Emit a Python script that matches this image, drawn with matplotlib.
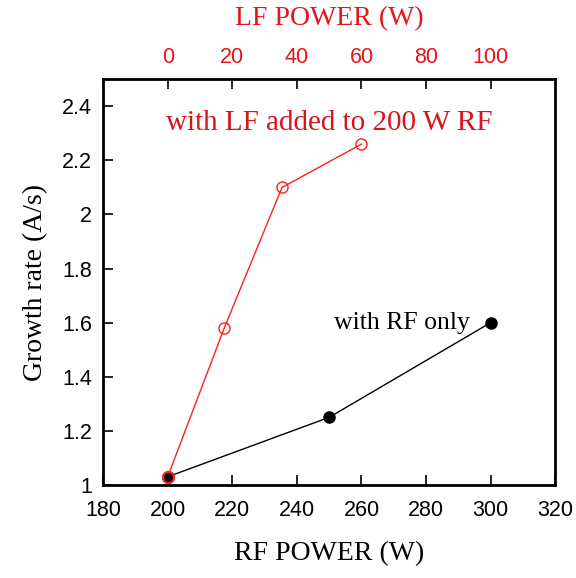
import matplotlib.pyplot as plt

# LF power added to 200 W RF
lf_power = [0, 17.5, 35.4, 60]
lf_rate = [1.03, 1.58, 2.10, 2.26]

# RF power only
rf_power = [200, 250, 300]
rf_rate = [1.03, 1.25, 1.60]

serif = 'Liberation Serif'
sans = 'Liberation Sans'

fig = plt.figure(figsize=(5.76, 5.78), dpi=100)
ax = fig.add_axes([0.179, 0.161, 0.785, 0.702])

ax.plot(rf_power, rf_rate, color='black', lw=1, marker='o', ms=8, mfc='black', mec='black', zorder=3)
ax.set_xlim(180, 320)
ax.set_ylim(1, 2.5)
ax.set_xticks(range(180, 321, 20))
ax.set_yticks([1, 1.2, 1.4, 1.6, 1.8, 2, 2.2, 2.4])
ax.set_yticklabels(['1', '1.2', '1.4', '1.6', '1.8', '2', '2.2', '2.4'])
ax.tick_params(direction='in', length=7, width=1.2, labelsize=15.5, pad=8, top=False, right=False)
ax.tick_params(axis='x', pad=11)
for lab in ax.get_xticklabels() + ax.get_yticklabels():
    lab.set_fontfamily(sans)
for s in ax.spines.values():
    s.set_linewidth(2)
ax.set_xlabel('RF POWER (W)', fontsize=20, family=serif, labelpad=14)
ax.set_ylabel('Growth rate (A/s)', fontsize=20, family=serif, labelpad=10)

# top axis for LF power (0 W LF sits at 200 W RF)
top = ax.twiny()
top.set_xlim(-20, 120)
top.set_xticks(range(0, 101, 20))
top.tick_params(direction='in', length=7, width=1.2, labelsize=15.5, labelcolor='#e8141b', pad=8)
for lab in top.get_xticklabels():
    lab.set_fontfamily(sans)
top.set_xlabel('LF POWER (W)', fontsize=20, family=serif, color='#e8141b', labelpad=16)
top.plot(lf_power, lf_rate, color='#ff2020', lw=1, marker='o', ms=8, mfc='none', mec='#ff2020', zorder=2)
top.plot(lf_power[:1], lf_rate[:1], ls='none', marker='o', ms=8, mfc='black', mec='#ff2020', mew=1.5, zorder=4)
top.set_ylim(1, 2.5)

ax.text(0.5, 0.891, 'with LF added to 200 W RF', transform=ax.transAxes, ha='center', va='center',
        fontsize=21, family=serif, color='#d8141b')
ax.text(272.5, 1.60, 'with RF only', ha='center', va='center', fontsize=18.5, family=serif, color='black')

fig.savefig('out.png', dpi=100)
